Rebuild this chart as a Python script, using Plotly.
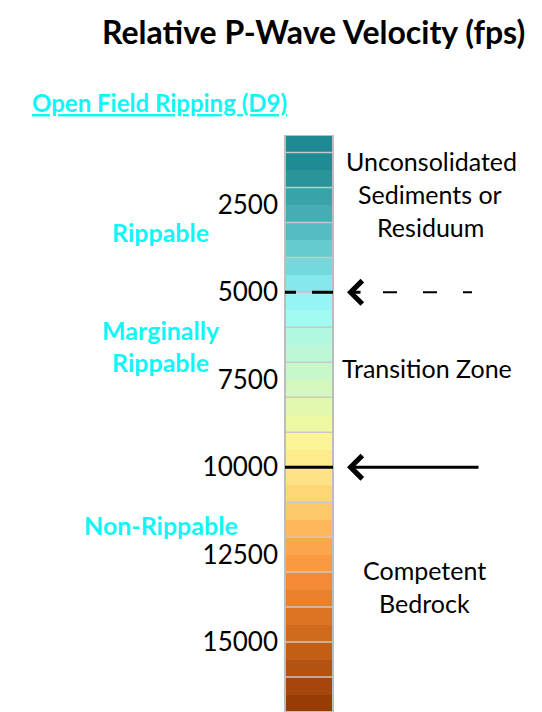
import plotly.graph_objects as go

# velocity bins (fps), 500 fps each, and their colours
seg_low = [500, 1000, 1500, 2000, 2500, 3000, 3500, 4000, 4500, 5000, 5500,
           6000, 6500, 7000, 7500, 8000, 8500, 9000, 9500, 10000, 10500,
           11000, 11500, 12000, 12500, 13000, 13500, 14000, 14500, 15000,
           15500, 16000, 16500]
seg_size = [500] * len(seg_low)
seg_colors = ['#208a94', '#1f8c95', '#2a9599', '#3aa3a7', '#46aeb3', '#55bcc1',
              '#66cbcf', '#74d9dc', '#84e8ec', '#94f4f6', '#a2fbf2', '#b0f8e0',
              '#bcf8d6', '#c8f8ca', '#d4f8bc', '#e2f8ae', '#eef8a2', '#fbf496',
              '#fdec8c', '#fde286', '#fdd676', '#fdc868', '#fcb85a', '#fba64c',
              '#fa9a40', '#f48a34', '#e8802c', '#dc7424', '#d06a1c', '#c25e16',
              '#b45212', '#a6460c', '#983c06']

tick_vals = [2500, 5000, 7500, 10000, 12500, 15000]
block_edges = [1000, 2000, 3000, 4000, 5000, 6000, 7000, 8000, 9000, 10000,
               11000, 12000, 13000, 14000, 15000, 16000]
dashed_marker = 5000
solid_marker = 10000

W, H, TOP = 542, 712, 135
FONT = 'Lato'
CYAN = '#10f6f6'


def xp(px):
    return px / W


def yp(py):
    return (H - py) / (H - TOP)


fig = go.Figure(go.Bar(
    x=[0] * len(seg_low), y=seg_size, base=seg_low,
    marker=dict(color=seg_colors, line=dict(width=0)),
    width=1, hoverinfo='skip',
))

shapes = []
for e in block_edges:
    shapes.append(dict(type='line', xref='x domain', yref='y', x0=0, x1=1,
                       y0=e, y1=e, line=dict(color='#c8c8c8', width=1.5)))
shapes.append(dict(type='rect', xref='x domain', yref='y', x0=0, x1=1,
                   y0=seg_low[0], y1=seg_low[-1] + seg_size[-1],
                   line=dict(color='#bdbdbd', width=2)))
# marker lines across the bar
shapes.append(dict(type='line', xref='x domain', yref='y', x0=0, x1=1,
                   y0=dashed_marker, y1=dashed_marker,
                   line=dict(color='black', width=3, dash='11px,16px,21px')))
shapes.append(dict(type='line', xref='x domain', yref='y', x0=0, x1=1,
                   y0=solid_marker, y1=solid_marker,
                   line=dict(color='black', width=3)))
# dashed arrow tail
shapes.append(dict(type='line', xref='paper', yref='y', x0=xp(383), x1=xp(472),
                   y0=dashed_marker, y1=dashed_marker,
                   line=dict(color='black', width=2, dash='14px,26px')))

ann = []
ann.append(dict(x=xp(527), y=yp(32), xref='paper', yref='paper', xanchor='right',
                yanchor='middle', text='<b>Relative P-Wave Velocity (fps)</b>',
                showarrow=False, font=dict(family=FONT, size=32, color='black')))
ann.append(dict(x=xp(30), y=yp(102), xref='paper', yref='paper', xanchor='left',
                yanchor='middle', text='<b><u>Open Field Ripping (D9)</u></b>',
                showarrow=False, font=dict(family=FONT, size=24, color=CYAN)))

left_labels = [('Rippable', 3274), ('Marginally', 6077), ('Rippable', 6991),
               ('Non-Rippable', 11653)]
for t, y in left_labels:
    ann.append(dict(x=xp(161), y=y, xref='paper', yref='y', xanchor='center',
                    yanchor='middle', text='<b>%s</b>' % t, showarrow=False,
                    font=dict(family=FONT, size=25, color=CYAN)))

right_labels = [('Unconsolidated', 431, 1243), ('Sediments or', 430, 2187),
                ('Residuum', 430, 3131), ('Transition Zone', 427, 7163),
                ('Competent', 424, 12940), ('Bedrock', 424, 13884)]
for t, x, y in right_labels:
    ann.append(dict(x=xp(x), y=y, xref='paper', yref='y', xanchor='center',
                    yanchor='middle', text=t, showarrow=False,
                    font=dict(family=FONT, size=25, color='black')))

# arrow heads
ann.append(dict(x=xp(347), y=dashed_marker, xref='paper', yref='y', text='',
                showarrow=True, ax=15, ay=0, arrowhead=4, arrowsize=1.5,
                arrowwidth=3, arrowcolor='black'))
ann.append(dict(x=xp(347), y=solid_marker, xref='paper', yref='y', text='',
                showarrow=True, ax=133, ay=0, arrowhead=4, arrowsize=1.5,
                arrowwidth=3, arrowcolor='black'))

fig.update_layout(
    width=W, height=H,
    margin=dict(l=0, r=0, t=TOP, b=0, autoexpand=False),
    paper_bgcolor='white', plot_bgcolor='white',
    showlegend=False, bargap=0,
    shapes=shapes, annotations=ann,
    xaxis=dict(domain=[xp(285), xp(333)], range=[-0.5, 0.5], visible=False,
               fixedrange=True, automargin=False),
    yaxis=dict(range=[seg_low[-1] + seg_size[-1], seg_low[0]], tickvals=tick_vals,
               tickformat='d', automargin=False,
               showgrid=False, zeroline=False, showline=False, ticks='',
               ticklabelstandoff=6,
               tickfont=dict(family=FONT, size=26, color='black')),
)

# drop the page's default body margin so the figure sits at the window origin
fig.write_html('out.html', config={'displayModeBar': False},
               post_script="document.body.style.margin='0';")
